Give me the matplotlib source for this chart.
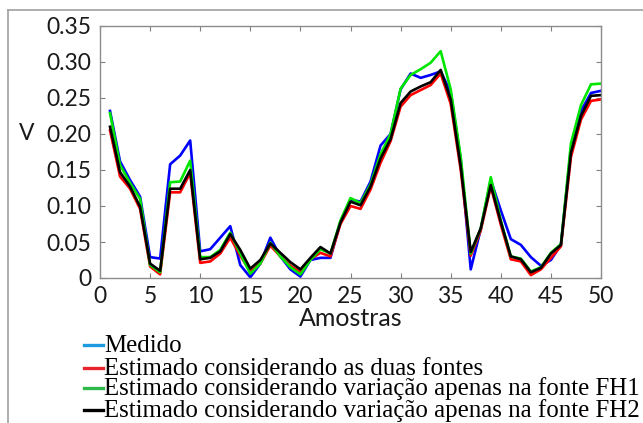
import matplotlib
matplotlib.use("Agg")
import matplotlib.pyplot as plt
from matplotlib.lines import Line2D
from matplotlib.font_manager import FontProperties
import numpy as np

amostras = np.arange(1, 51)

medido = [0.232, 0.162, 0.136, 0.113, 0.029, 0.027, 0.158, 0.170, 0.191, 0.037,
          0.040, 0.056, 0.072, 0.018, 0.001, 0.020, 0.056, 0.030, 0.012, 0.002,
          0.025, 0.028, 0.028, 0.078, 0.109, 0.106, 0.134, 0.184, 0.200, 0.262,
          0.284, 0.278, 0.282, 0.287, 0.258, 0.165, 0.012, 0.068, 0.136, 0.094,
          0.054, 0.046, 0.029, 0.017, 0.025, 0.046, 0.180, 0.232, 0.257, 0.260]

duas_fontes = [0.205, 0.141, 0.124, 0.096, 0.016, 0.005, 0.119, 0.119, 0.146, 0.021,
               0.023, 0.034, 0.056, 0.031, 0.009, 0.020, 0.045, 0.030, 0.017, 0.008,
               0.026, 0.035, 0.030, 0.075, 0.100, 0.096, 0.123, 0.160, 0.190, 0.238,
               0.254, 0.261, 0.268, 0.284, 0.242, 0.150, 0.031, 0.066, 0.127, 0.074,
               0.026, 0.023, 0.004, 0.012, 0.028, 0.044, 0.168, 0.220, 0.246, 0.248]

fonte_fh1 = [0.229, 0.157, 0.132, 0.110, 0.018, 0.008, 0.133, 0.134, 0.163, 0.029,
             0.029, 0.039, 0.063, 0.034, 0.006, 0.020, 0.049, 0.030, 0.015, 0.005,
             0.025, 0.040, 0.034, 0.080, 0.111, 0.104, 0.130, 0.172, 0.200, 0.263,
             0.282, 0.290, 0.299, 0.315, 0.262, 0.168, 0.034, 0.069, 0.140, 0.080,
             0.030, 0.027, 0.009, 0.015, 0.035, 0.047, 0.187, 0.240, 0.269, 0.270]

fonte_fh2 = [0.210, 0.147, 0.127, 0.099, 0.020, 0.010, 0.124, 0.124, 0.150, 0.026,
             0.028, 0.037, 0.061, 0.039, 0.013, 0.025, 0.048, 0.035, 0.022, 0.012,
             0.028, 0.043, 0.034, 0.077, 0.106, 0.101, 0.127, 0.166, 0.193, 0.243,
             0.259, 0.266, 0.272, 0.289, 0.248, 0.155, 0.036, 0.069, 0.129, 0.078,
             0.030, 0.026, 0.008, 0.014, 0.034, 0.046, 0.174, 0.225, 0.253, 0.254]

legendas = ["Medido",
            "Estimado considerando as duas fontes",
            "Estimado considerando variação apenas na fonte FH1",
            "Estimado considerando variação apenas na fonte FH2"]

xticks = list(range(0, 51, 5))
yticks = [0, 0.05, 0.10, 0.15, 0.20, 0.25, 0.30, 0.35]
ytick_labels = ["0", "0.05", "0.10", "0.15", "0.20", "0.25", "0.30", "0.35"]

plt.rcParams['font.family'] = ['Lato', 'DejaVu Sans']

fig = plt.figure(figsize=(6.43, 4.23), dpi=100)
ax = fig.add_axes([100 / 643, 1 - 278 / 423, 501 / 643, 252 / 423])

ax.plot(amostras, medido, color='#0000ff', lw=1.9)
ax.plot(amostras, duas_fontes, color='#ff0000', lw=1.9)
ax.plot(amostras, fonte_fh1, color='#00e600', lw=1.9)
ax.plot(amostras, fonte_fh2, color='black', lw=1.9)

ax.set_xlim(0, 50)
ax.set_ylim(0, 0.35)
ax.set_xticks(xticks)
ax.set_yticks(yticks)
ax.set_yticklabels(ytick_labels)
ax.tick_params(direction='in', length=3.5, width=0.8, color='#808080',
               top=True, right=True, labelsize=16.5, labelcolor='#1a1a1a', pad=6)
for s in ax.spines.values():
    s.set_color('#8c8c8c')
    s.set_linewidth(1.0)

ax.set_xlabel("Amostras", fontsize=18, color='#1a1a1a', labelpad=0)
ax.set_ylabel("V", fontsize=16.5, color='#1a1a1a', rotation=0, va='center', ha='center')
ax.yaxis.set_label_coords(-0.146, 0.575)

# legend drawn by hand below the axes
serif = FontProperties(family='Liberation Serif', size=17.9)
cores_leg = ['#1e9be0', '#e8242c', '#2db84a', '#000000']
linhas_y = [345, 368, 388, 410]
for cor, texto, yp in zip(cores_leg, legendas, linhas_y):
    yf = 1 - yp / 423
    fig.add_artist(Line2D([84 / 643, 103 / 643], [yf, yf], color=cor, lw=2.4,
                          transform=fig.transFigure))
    fig.text(104 / 643, yf - 1 / 423, texto, fontproperties=serif,
             va='center', ha='left', color='black')

# outer frame
fig.add_artist(Line2D([8 / 643, 1], [1 - 10 / 423, 1 - 10 / 423], color='#a0a0a0', lw=1.2,
                      transform=fig.transFigure))
fig.add_artist(Line2D([8 / 643, 8 / 643], [0, 1 - 10 / 423], color='#a0a0a0', lw=1.2,
                      transform=fig.transFigure))

fig.savefig("out.png", dpi=100)
